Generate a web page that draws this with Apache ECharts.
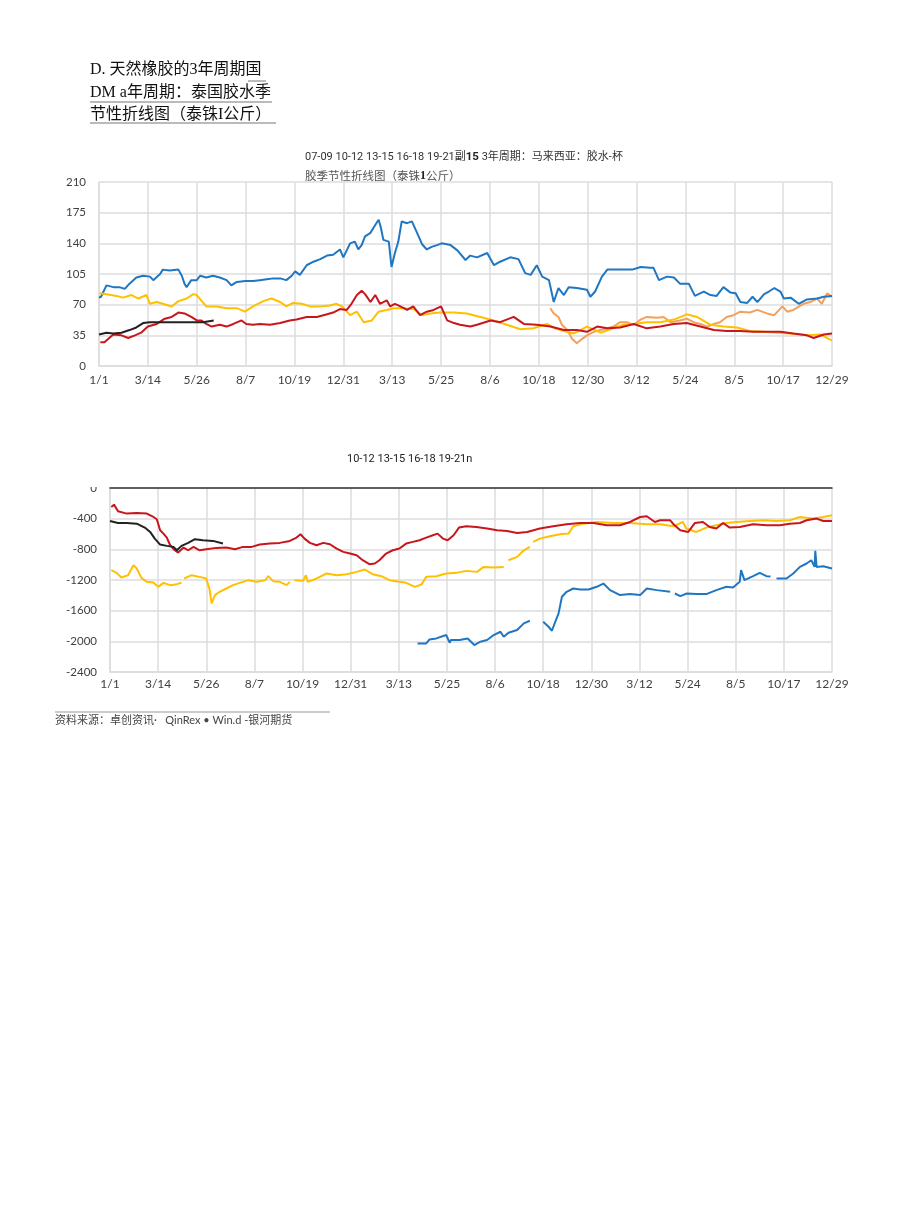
<!DOCTYPE html>
<html>
<head>
<meta charset="utf-8">
<script src="https://cdn.jsdelivr.net/npm/echarts@6/dist/echarts.min.js"></script>
<style>
html,body{margin:0;padding:0;background:#fff;}
#c{width:920px;height:1223px;}
</style>
</head>
<body>
<div id="c"></div>
<script>
// ---- tick labels (3-year seasonal axis, day index step 72) ----
const xLabels = ['1/1','3/14','5/26','8/7','10/19','12/31','3/13','5/25','8/6','10/18','12/30','3/12','5/24','8/5','10/17','12/29'];

// ---- top chart: 3年周期 马来西亚 胶水-杯胶 (泰铢/公斤), [day, value] ----
const topOrange = [[665,66],[670,60],[677,56],[682,47],[690,41],[697,31],[704,26],[712,31],[719,35],[729,39],[739,41],[749,43],[758,45],[768,50],[778,50],[788,47],[798,53],[807,56],[822,55],[832,56],[842,50],[856,52],[866,54],[876,50],[886,48],[896,45],[906,48],[915,50],[925,56],[935,58],[945,62],[959,61],[970,64],[984,60],[995,58],[1007,68],[1014,62],[1023,64],[1038,71],[1048,73],[1058,77],[1065,71],[1073,83],[1080,79]];
const topBlue = [[0,78],[3,79],[11,92],[21,90],[30,90],[38,88],[45,94],[55,101],[65,103],[75,102],[80,98],[90,105],[94,110],[104,109],[117,110],[122,103],[126,94],[129,90],[136,98],[144,98],[149,103],[158,101],[168,103],[178,101],[188,98],[195,92],[203,96],[216,97],[227,97],[237,98],[247,99],[257,100],[267,100],[276,98],[284,103],[289,108],[296,104],[306,115],[316,119],[326,122],[336,126],[345,127],[355,133],[360,124],[370,140],[377,142],[382,133],[387,138],[392,148],[400,152],[407,161],[412,167],[415,159],[419,144],[427,142],[431,113],[436,129],[441,142],[446,165],[454,163],[461,165],[468,153],[476,139],[483,133],[490,136],[498,138],[505,140],[518,138],[528,132],[540,121],[547,126],[557,124],[572,129],[582,115],[591,119],[606,124],[618,122],[628,106],[636,104],[645,115],[653,102],[663,98],[670,73],[677,89],[685,81],[692,90],[704,89],[719,87],[724,79],[731,85],[741,102],[749,110],[758,110],[771,110],[786,110],[798,113],[812,112],[817,112],[825,98],[837,102],[847,101],[856,94],[869,94],[878,80],[891,85],[901,81],[910,80],[920,90],[930,84],[938,83],[945,73],[955,72],[963,79],[970,73],[980,82],[987,85],[995,89],[1004,85],[1009,77],[1019,78],[1031,71],[1043,76],[1058,77],[1068,79],[1080,80]];
const topYellow = [[1,83],[11,82],[26,80],[35,78],[48,81],[58,77],[70,81],[75,71],[85,73],[94,71],[107,68],[117,74],[129,77],[139,82],[144,81],[158,68],[173,68],[188,66],[203,66],[215,62],[227,68],[242,74],[254,77],[267,73],[276,68],[286,72],[299,71],[311,68],[326,68],[340,69],[350,71],[358,68],[370,58],[380,62],[390,50],[402,52],[412,62],[424,64],[434,66],[449,66],[463,65],[476,58],[488,60],[502,61],[523,61],[542,60],[562,56],[582,52],[601,47],[621,42],[640,43],[660,48],[672,43],[685,40],[699,37],[719,45],[739,38],[753,42],[773,47],[788,48],[807,50],[827,50],[847,53],[866,59],[881,56],[901,47],[920,45],[940,44],[959,40],[979,39],[999,38],[1019,37],[1043,35],[1063,36],[1080,29]];
const topRed = [[2,27],[8,27],[21,36],[33,35],[43,32],[53,35],[62,38],[72,45],[85,48],[97,54],[107,56],[117,61],[126,60],[136,56],[144,52],[151,52],[158,48],[166,45],[178,47],[188,45],[198,48],[210,52],[217,48],[227,47],[237,48],[252,47],[267,49],[281,52],[291,53],[306,56],[321,56],[336,59],[345,61],[355,65],[365,64],[372,71],[380,81],[387,86],[392,82],[400,73],[407,81],[414,71],[424,75],[429,68],[436,71],[444,68],[454,64],[463,68],[473,58],[483,62],[493,64],[504,68],[513,52],[523,49],[532,47],[547,45],[557,47],[577,52],[591,50],[611,56],[626,48],[645,47],[665,45],[685,41],[704,41],[719,39],[734,45],[749,43],[768,44],[788,48],[807,43],[827,45],[847,48],[866,49],[886,45],[906,41],[925,40],[945,40],[964,39],[984,39],[1004,39],[1023,37],[1043,35],[1053,32],[1068,36],[1080,37]];
const topBlack = [[0,36],[11,38],[21,37],[33,38],[45,41],[55,44],[65,49],[75,50],[90,50],[104,50],[119,50],[139,50],[153,50],[169,52]];

// ---- bottom chart, [day, value]; '-' marks a gap ----
const botBlue = [[460,-2027],[473,-2027],[478,-1975],[488,-1962],[503,-1918],[508,-2018],[510,-1983],[523,-1983],[535,-1962],[545,-2048],[554,-2005],[564,-1983],[574,-1918],[584,-1875],[589,-1940],[596,-1888],[609,-1853],[619,-1766],[628,-1732],[638,'-'],[648,-1745],[656,-1810],[661,-1862],[666,-1745],[671,-1636],[676,-1419],[683,-1354],[693,-1311],[703,-1324],[716,-1324],[728,-1289],[738,-1246],[748,-1332],[763,-1397],[778,-1384],[793,-1397],[803,-1311],[818,-1332],[838,-1354],[841,'-'],[845,-1376],[853,-1410],[863,-1376],[877,-1384],[892,-1384],[907,-1332],[922,-1289],[932,-1298],[942,-1224],[944,-1072],[949,-1202],[962,-1150],[972,-1107],[982,-1150],[988,-1155],[992,'-'],[997,-1180],[1012,-1180],[1022,-1115],[1032,-1029],[1042,-985],[1049,-942],[1054,-1029],[1055,-820],[1057,-1029],[1067,-1020],[1080,-1050]];
const botYellow = [[2,-1072],[10,-1107],[17,-1167],[27,-1137],[35,-1007],[40,-1050],[47,-1172],[55,-1224],[65,-1233],[72,-1289],[80,-1237],[90,-1267],[100,-1254],[107,-1237],[109,'-'],[111,-1180],[122,-1137],[134,-1159],[144,-1180],[149,-1324],[152,-1506],[157,-1397],[164,-1354],[174,-1311],[184,-1267],[194,-1237],[207,-1202],[219,-1224],[232,-1202],[237,-1150],[244,-1215],[254,-1224],[264,-1267],[269,-1224],[272,'-'],[276,-1202],[289,-1211],[293,-1137],[296,-1224],[309,-1180],[324,-1115],[339,-1137],[354,-1124],[369,-1094],[381,-1063],[393,-1124],[406,-1150],[418,-1202],[433,-1224],[443,-1237],[456,-1289],[466,-1259],[473,-1159],[488,-1150],[503,-1115],[518,-1107],[533,-1081],[549,-1094],[559,-1029],[574,-1037],[589,-1029],[592,'-'],[596,-942],[609,-898],[619,-812],[628,-768],[630,'-'],[633,-703],[643,-660],[658,-629],[673,-603],[686,-595],[693,-499],[708,-465],[728,-443],[753,-456],[778,-456],[803,-473],[823,-473],[843,-499],[857,-443],[862,-529],[877,-573],[892,-516],[907,-486],[922,-456],[937,-443],[957,-430],[977,-421],[997,-430],[1017,-421],[1032,-378],[1052,-399],[1067,-378],[1080,-356]];
const botRed = [[2,-247],[6,-217],[12,-304],[25,-334],[40,-326],[55,-334],[65,-378],[70,-408],[75,-551],[80,-595],[85,-647],[90,-747],[97,-812],[102,-842],[110,-777],[117,-812],[125,-768],[134,-812],[144,-799],[159,-781],[174,-777],[187,-799],[199,-768],[212,-768],[224,-738],[239,-725],[254,-716],[269,-690],[279,-647],[285,-603],[291,-660],[299,-716],[309,-747],[319,-716],[329,-734],[339,-790],[349,-833],[359,-855],[369,-877],[378,-942],[388,-994],[396,-985],[403,-942],[413,-855],[423,-812],[433,-790],[443,-725],[453,-703],[463,-681],[473,-647],[483,-616],[490,-595],[498,-660],[505,-681],[514,-616],[522,-516],[533,-499],[548,-508],[564,-529],[579,-551],[594,-560],[609,-586],[624,-573],[643,-529],[663,-499],[683,-473],[703,-456],[723,-456],[743,-486],[763,-486],[778,-443],[793,-378],[803,-369],[815,-443],[823,-421],[838,-421],[843,-473],[853,-551],[865,-573],[875,-456],[887,-443],[897,-508],[907,-529],[917,-456],[927,-516],[942,-508],[962,-473],[982,-486],[1002,-486],[1017,-465],[1032,-456],[1042,-421],[1057,-399],[1067,-430],[1080,-430]];
const botBlack = [[0,-430],[12,-456],[25,-456],[40,-465],[52,-516],[60,-573],[67,-660],[75,-738],[85,-755],[95,-768],[100,-812],[107,-755],[117,-716],[127,-668],[139,-681],[154,-690],[169,-725]];

const C = {blue:'#1f77c4', yellow:'#ffc000', red:'#c8161d', black:'#222222', orange:'#f5a05a'};
const GRID = '#dcdcdc';
const LBL = {color:'#404040', fontSize:11.5, fontFamily:'Lato, "Noto Sans", sans-serif'};

function xAx(gi, margin){
  return {gridIndex:gi, type:'value', min:0, max:1080, interval:72,
    axisLine:{show:true, onZero:false, lineStyle:{color:GRID, width:1.5}},
    axisTick:{show:false},
    axisLabel:Object.assign({margin:margin, formatter:v=>xLabels[Math.round(v/72)]}, LBL, {fontSize:12}),
    splitLine:{show:true, lineStyle:{color:GRID, width:1.5}}};
}
function line(name, data, color, gi){
  return {name:name, type:'line', xAxisIndex:gi, yAxisIndex:gi, data:data, showSymbol:false, symbol:'none',
    lineStyle:{color:color, width:2}, itemStyle:{color:color}, connectNulls:false, animation:false, z:3};
}

const chart = echarts.init(document.getElementById('c'), null, {renderer:'canvas'});
chart.setOption({
  backgroundColor:'#fff',
  animation:false,
  grid:[
    {left:99, top:182, width:733, height:184},
    {left:110, top:488, width:722, height:184}
  ],
  xAxis:[
    xAx(0, 8),
    xAx(1, 6),
    {gridIndex:1, type:'value', position:'top', min:0, max:1080,
      axisLine:{show:true, onZero:false, lineStyle:{color:'#333', width:1.5}},
      axisTick:{show:false}, axisLabel:{show:false}, splitLine:{show:false}}
  ],
  yAxis:[
    {gridIndex:0, type:'value', min:0, max:210, interval:35,
      axisLine:{show:true, lineStyle:{color:GRID, width:1.5}}, axisTick:{show:false},
      axisLabel:Object.assign({margin:13, formatter:v=>String(v)}, LBL),
      splitLine:{show:true, lineStyle:{color:GRID, width:1.5}}},
    {gridIndex:1, type:'value', min:-2400, max:0, interval:400,
      axisLine:{show:true, lineStyle:{color:GRID, width:1.5}}, axisTick:{show:false},
      axisLabel:Object.assign({margin:13, formatter:v=>String(v)}, LBL),
      splitLine:{show:true, lineStyle:{color:GRID, width:1.5}}}
  ],
  series:[
    line('07-09', topOrange, C.orange, 0),
    line('10-12', topBlue, C.blue, 0),
    line('13-15', topYellow, C.yellow, 0),
    line('16-18', topRed, C.red, 0),
    line('19-21', topBlack, C.black, 0),
    line('10-12', botBlue, C.blue, 1),
    line('13-15', botYellow, C.yellow, 1),
    line('16-18', botRed, C.red, 1),
    line('19-21', botBlack, C.black, 1)
  ],
  graphic:[
    // header block
    {type:'text', left:90, top:62, style:{text:'D. 天然橡胶的3年周期国', fill:'#111', font:'16px "Liberation Serif", "Noto Sans CJK SC"'}},
    {type:'line', shape:{x1:248, y1:81, x2:266, y2:81}, style:{stroke:'#777', lineWidth:1}},
    {type:'text', left:90, top:85, style:{text:'DM a年周期：泰国胶水季', fill:'#111', font:'16px "Liberation Serif", "Noto Sans CJK SC"'}},
    {type:'line', shape:{x1:90, y1:102, x2:272, y2:102}, style:{stroke:'#777', lineWidth:1}},
    {type:'text', left:90, top:107, style:{text:'节性折线图（泰铢I公斤）', fill:'#111', font:'16px "Liberation Serif", "Noto Sans CJK SC"'}},
    {type:'line', shape:{x1:90, y1:123, x2:276, y2:123}, style:{stroke:'#777', lineWidth:1}},
    // top chart caption
    {type:'text', left:305, top:151, style:{
      text:'07-09 10-12 13-15 16-18 19-21副{b|15} 3年周期：马来西亚：胶水-杯',
      fill:'#333', font:'11px Roboto, "Noto Sans CJK SC"',
      rich:{b:{fontWeight:'bold', fontSize:11.5, fill:'#222', fontFamily:'Roboto'}}}},
    {type:'text', left:305, top:170, style:{
      text:'胶季节性折线图（泰铢{b|1}公斤）',
      fill:'#555', font:'11.5px "Noto Sans CJK SC"',
      rich:{b:{fontWeight:'bold', fontSize:12, fill:'#222', fontFamily:'"Liberation Serif"'}}}},
    // bottom chart caption
    {type:'text', left:347, top:454, style:{text:'10-12 13-15 16-18 19-21n', fill:'#222', font:'11px Roboto, "Liberation Serif"'}},
    // mask over the top part of the "0" label
    {type:'rect', shape:{x:70, y:466, width:34, height:21}, style:{fill:'#fff'}, z:100},
    // source
    {type:'line', shape:{x1:55, y1:712, x2:330, y2:712}, style:{stroke:'#999', lineWidth:1}},
    {type:'text', left:55, top:715, style:{text:'资料来源：卓创资讯·   QinRex • Win.d -银河期货', fill:'#444', font:'11px Lato, "Noto Sans CJK SC"'}}
  ]
});
</script>
</body>
</html>
